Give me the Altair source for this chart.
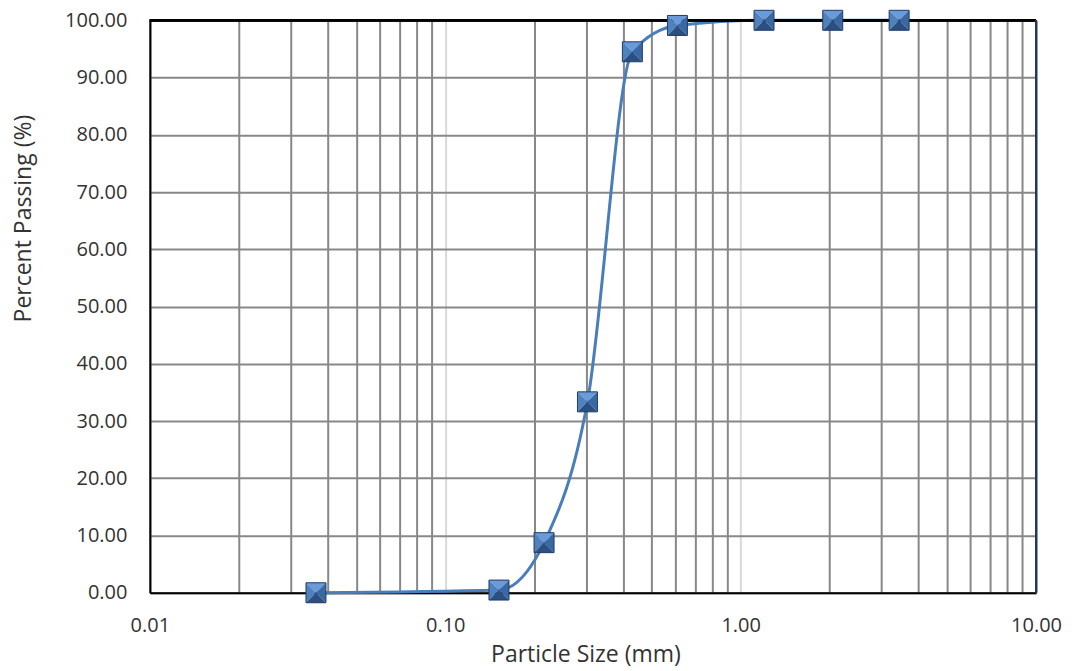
import altair as alt
import pandas as pd

# Data
sizes = [0.0365, 0.152, 0.216, 0.303, 0.430, 0.611, 1.20, 2.05, 3.44]
passing = [0.0, 0.47, 8.75, 33.35, 94.5, 99.1, 100.0, 100.0, 100.0]

x_ticks = [0.01, 0.02, 0.03, 0.04, 0.05, 0.06, 0.07, 0.08, 0.09,
           0.1, 0.2, 0.3, 0.4, 0.5, 0.6, 0.7, 0.8, 0.9,
           1, 2, 3, 4, 5, 6, 7, 8, 9, 10]
y_ticks = [0, 10, 20, 30, 40, 50, 60, 70, 80, 90, 100]

df = pd.DataFrame({"size": sizes, "passing": passing})

W, H = 887, 573
FONT = "Open Sans"
TEXT = "#333333"
GRID = "#888888"

x_scale = alt.Scale(type="log", domain=[0.01, 10], nice=False)
y_scale = alt.Scale(domain=[0, 100], nice=False, zero=True)

x_axis = alt.Axis(
    values=x_ticks,
    labelExpr="(datum.value == 0.01 || datum.value == 0.1 || datum.value == 1 || datum.value == 10) ? format(datum.value, '.2f') : ''",
    labelFlush=False,
    labelOverlap=False,
    labelFont=FONT, labelFontSize=20, labelColor=TEXT, labelPadding=23,
    ticks=False, tickSize=0,
    grid=True,
    gridColor={"condition": {"test": "datum.value == 0.1 || datum.value == 1", "value": "#d9d9d9"}, "value": GRID},
    gridWidth=2,
    domainColor="#000000", domainWidth=2,
    title="Particle Size (mm)",
    titleFont=FONT, titleFontSize=23, titleFontWeight="normal", titleColor=TEXT,
    titleX=436, titleY=69, titleAlign="center", titleBaseline="alphabetic",
)

y_axis = alt.Axis(
    values=y_ticks,
    format=".2f",
    labelFont=FONT, labelFontSize=20, labelColor=TEXT, labelPadding=23,
    ticks=False, tickSize=0,
    grid=True, gridColor=GRID, gridWidth=2,
    domainColor="#000000", domainWidth=2,
    title="Percent Passing (%)",
    titleFont=FONT, titleFontSize=23, titleFontWeight="normal", titleColor=TEXT,
    titleX=-119, titleY=198, titleAngle=270, titleAlign="center", titleBaseline="alphabetic",
)

base = alt.Chart(df)

line = base.mark_line(color="#4a7ebb", strokeWidth=3, interpolate="monotone").encode(
    x=alt.X("size:Q", scale=x_scale, axis=x_axis),
    y=alt.Y("passing:Q", scale=y_scale, axis=y_axis),
)

top_border = alt.Chart(df).mark_rule(color="#000000", strokeWidth=2).encode(
    y=alt.datum(100), x=alt.value(0), x2=alt.value(W)
)
right_border = alt.Chart(df).mark_rule(color="#1f3864", strokeWidth=2).encode(
    x=alt.datum(10), y=alt.value(0), y2=alt.value(H)
)

faces = [
    ("M-1,-1L1,-1L0,0Z", "#6a9bd8"),   # top
    ("M-1,-1L0,0L-1,1Z", "#4f81bd"),   # left
    ("M1,-1L1,1L0,0Z", "#3a68a2"),     # right
    ("M-1,1L1,1L0,0Z", "#2b4f80"),     # bottom
]
marker_layers = []
for path, col in faces:
    marker_layers.append(
        base.mark_point(shape=path, filled=True, size=400, color=col, opacity=1, strokeWidth=0).encode(
            x="size:Q", y="passing:Q"
        )
    )
outline = base.mark_point(shape="square", filled=False, size=400, stroke="#1f3d66", strokeWidth=1, opacity=1).encode(
    x="size:Q", y="passing:Q"
)

chart = alt.layer(line, top_border, right_border, *marker_layers, outline).properties(
    width=W, height=H,
    autosize=alt.AutoSizeParams(type="none"),
    padding={"left": 142, "top": 12, "right": 32, "bottom": 82},
).configure_view(stroke=None)

chart.save("out.html", embed_options={"renderer": "svg", "actions": False})
